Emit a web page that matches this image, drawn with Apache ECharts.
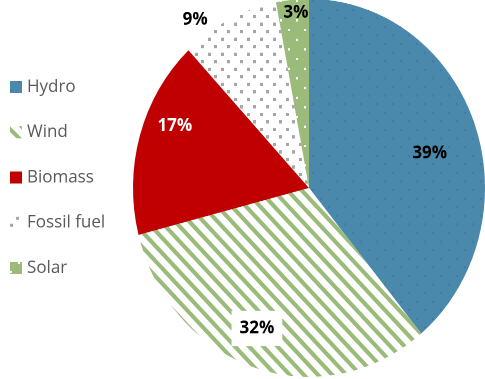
<!DOCTYPE html>
<html>
<head>
<meta charset="utf-8">
<script src="https://cdn.jsdelivr.net/npm/echarts@6/dist/echarts.min.js"></script>
<style>
  html, body { margin: 0; padding: 0; background: #fff; width: 485px; height: 379px; overflow: hidden; }
  /* the pie is drawn slightly taller than wide */
  #pie { position: absolute; left: 0; top: 0; width: 485px; height: 353px; transform: scaleY(1.0737); transform-origin: 0 0; }
  #key { position: absolute; left: 0; top: 0; width: 485px; height: 379px; }
</style>
</head>
<body>
<div id="pie"></div>
<div id="key"></div>
<script>
// Electricity generation by source, share in percent
const sources = ['Hydro', 'Wind', 'Biomass', 'Fossil fuel', 'Solar'];
const shares = [39, 32, 17, 9, 3];

const GREEN = '#9BBB7B';
const sliceStyles = [
  { color: '#4A89AC', decal: { symbol: 'rect', symbolSize: 1, color: 'rgba(40,90,135,0.25)',
      dashArrayX: [[2, 14], [0, 8, 2, 6]], dashArrayY: [2, 6] } },
  { color: '#ffffff', decal: { symbol: 'rect', symbolSize: 1, color: GREEN,
      dashArrayX: [1, 0], dashArrayY: [3.3, 5.2], rotation: Math.PI / 4 } },
  { color: '#C00000' },
  { color: '#ffffff', decal: { symbol: 'rect', symbolSize: 1, color: '#A6A6A6',
      dashArrayX: [[2.5, 9.5], [0, 6, 2.5, 3.5]], dashArrayY: [2.5, 3.5] } },
  { color: GREEN, decal: { symbol: 'rect', symbolSize: 1, color: '#ffffff',
      dashArrayX: [[2, 14], [0, 8, 2, 6]], dashArrayY: [2, 6.3] } }
];
const labelColors = ['#000', '#000', '#fff', '#000', '#000'];

const CX = 309, CY = 175, R = 176;
// label spot per slice: [angle clockwise from 12 o'clock in degrees, fraction of radius]
const labelSpots = [[75, 0.71], [201.7, 0.8], [293.3, 0.83], [324, 1.1], [355.4, 0.93]];

const items = sources.map((name, i) => ({
  name,
  value: shares[i],
  itemStyle: sliceStyles[i],
  label: Object.assign({ color: labelColors[i] },
    i === 1 ? { backgroundColor: '#fff', padding: [8, 8, 8, 8] } : {})
}));

const pie = echarts.init(document.getElementById('pie'), null, { devicePixelRatio: 2 });
pie.setOption({
  animation: false,
  series: [{
    type: 'pie',
    center: [CX, CY],
    radius: R,
    startAngle: 90,
    clockwise: true,
    avoidLabelOverlap: false,
    emphasis: { disabled: true },
    itemStyle: { borderWidth: 0 },
    label: {
      show: true,
      position: 'inside',
      formatter: '{c}%',
      fontFamily: 'Open Sans',
      fontWeight: 'bold',
      fontSize: 17
    },
    labelLine: { show: false },
    labelLayout: p => {
      const [deg, f] = labelSpots[p.dataIndex];
      const a = deg * Math.PI / 180;
      return { x: CX + f * R * Math.sin(a), y: CY - f * R * Math.cos(a), align: 'center', verticalAlign: 'middle' };
    },
    data: items
  }]
});

// legend drawn at natural proportions
const key = echarts.init(document.getElementById('key'), null, { devicePixelRatio: 2 });
key.setOption({
  animation: false,
  legend: {
    orient: 'vertical',
    left: 10,
    top: 77,
    padding: 0,
    itemWidth: 12,
    itemHeight: 12,
    itemGap: 25.25,
    icon: 'rect',
    selectedMode: false,
    textStyle: { color: '#595959', fontSize: 17, fontFamily: 'Open Sans', lineHeight: 20 },
    data: sources
  },
  series: [{
    type: 'pie',
    center: [-500, -500],
    radius: 1,
    silent: true,
    label: { show: false },
    labelLine: { show: false },
    data: sources.map((name, i) => ({ name, value: shares[i], itemStyle: sliceStyles[i] }))
  }]
});
</script>
</body>
</html>
